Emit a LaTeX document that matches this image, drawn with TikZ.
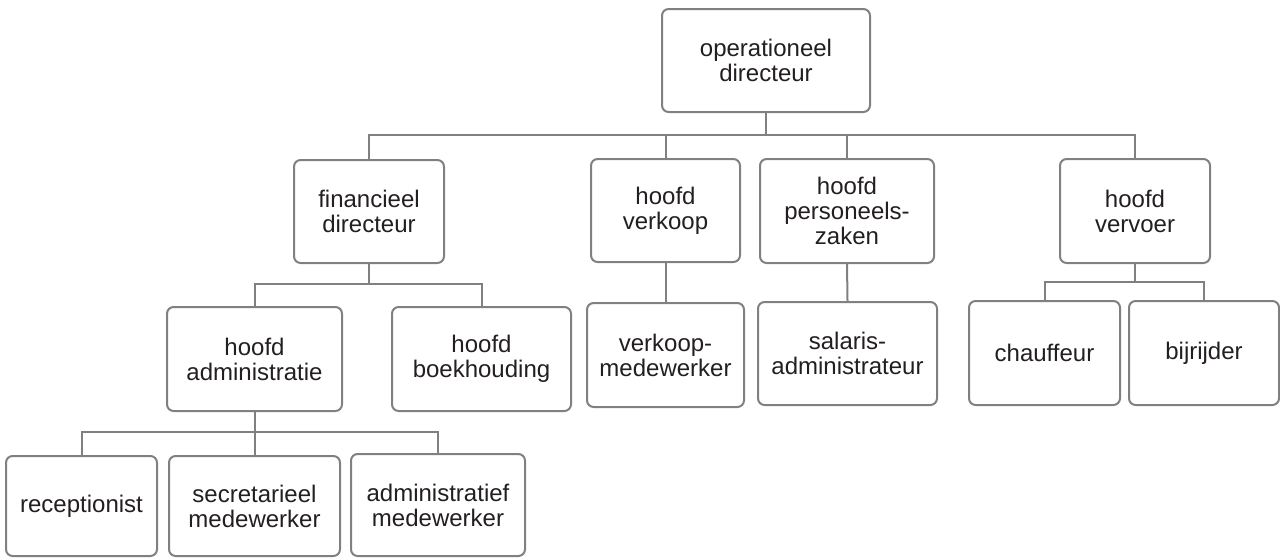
\documentclass[tikz,border=0pt]{standalone}
\usepackage{fontspec}
\setmainfont{Liberation Sans}
\definecolor{boxline}{HTML}{808080}
\definecolor{txt}{HTML}{231F20}
\begin{document}
\begin{tikzpicture}[x=0.75pt,y=-0.75pt,
  box/.style={draw=boxline, line width=1.5pt, rounded corners=5pt, fill=white,
    align=center, inner sep=0pt, text=txt,
    font=\fontsize{18}{18.75}\selectfont},
  sz/.style 2 args={minimum width=#1*0.75pt, minimum height=#2*0.75pt},
  conn/.style={draw=boxline, line width=1.5pt}]
\useasboundingbox (0,0) rectangle (1280,558);
% level 1
\node[box, sz={208}{103}] (top) at (766,60.5) {operationeel\\directeur};
% level 2
\node[box, sz={150}{103}] (fin) at (369,211.5) {financieel\\directeur};
\node[box, sz={149}{103}] (verk) at (665.5,210.5) {hoofd\\verkoop};
\node[box, sz={174}{104}] (pers) at (847,211) {hoofd\\personeels-\\zaken};
\node[box, sz={150}{104}] (verv) at (1135,211) {hoofd\\vervoer};
% level 3
\node[box, sz={175}{104}] (hadm) at (254.5,359) {hoofd\\administratie};
\node[box, sz={179}{104}] (hboek) at (481.5,359) {hoofd\\boekhouding};
\node[box, sz={157}{104}] (vmw) at (665.5,355) {verkoop-\\medewerker};
\node[box, sz={179}{103}] (sal) at (847.5,353.5) {salaris-\\administrateur};
\node[box, sz={151}{104}] (chauf) at (1044.5,353) {chauffeur};
\node[box, sz={150}{104}] (bij) at (1204,353) {bijrijder};
% level 4
\node[box, sz={151}{100}] (rec) at (81.5,506) {receptionist};
\node[box, sz={171}{100}] (sec) at (254.5,506) {secretarieel\\medewerker};
\node[box, sz={174}{102}] (adm) at (438,505) {administratief\\medewerker};
% bus coordinates
\coordinate (b1) at (0,135);
\coordinate (b2) at (0,284);
\coordinate (b3) at (0,432);
\coordinate (b4) at (0,282);
% connectors
\draw[conn] (top.south) -- (top.south |- b1);
\draw[conn] (fin.north) -- (fin.north |- b1) -- (verv.north |- b1) -- (verv.north);
\draw[conn] (verk.north) -- (verk.north |- b1);
\draw[conn] (pers.north) -- (pers.north |- b1);
\draw[conn] (fin.south) -- (fin.south |- b2);
\draw[conn] (hadm.north) -- (hadm.north |- b2) -- (hboek.north |- b2) -- (hboek.north);
\draw[conn] (hadm.south) -- (hadm.south |- b3);
\draw[conn] (rec.north) -- (rec.north |- b3) -- (adm.north |- b3) -- (adm.north);
\draw[conn] (sec.north) -- (sec.north |- b3);
\draw[conn] (verk.south) -- (vmw.north);
\draw[conn] (pers.south) -- (sal.north);
\draw[conn] (verv.south) -- (verv.south |- b4);
\draw[conn] (chauf.north) -- (chauf.north |- b4) -- (bij.north |- b4) -- (bij.north);
\end{tikzpicture}
\end{document}
